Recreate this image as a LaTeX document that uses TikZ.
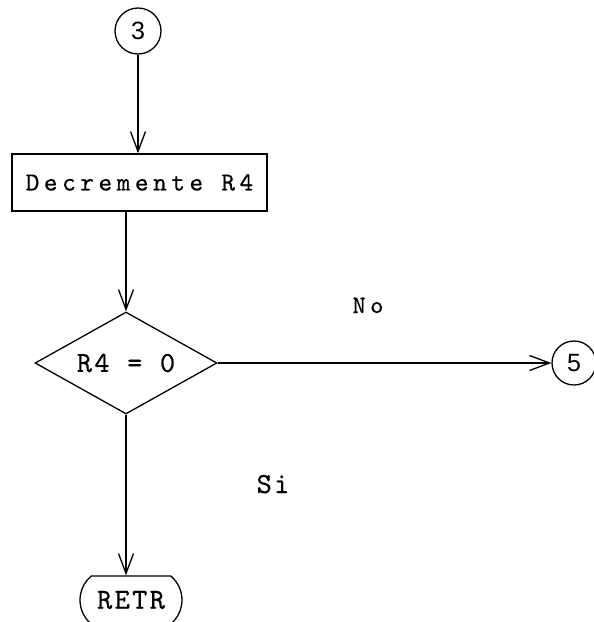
\documentclass[tikz,border=0pt]{standalone}
\usepackage{fontspec}
\newfontfamily\digitfont{Liberation Sans}
\newfontfamily\twA{lmmono10-regular}[Extension=.otf,LetterSpace=17.5,FakeBold=0.5]
\newfontfamily\twB{lmmono10-regular}[Extension=.otf,LetterSpace=8,FakeBold=0.5]
\newfontfamily\twC{lmmono10-regular}[Extension=.otf,LetterSpace=18,FakeBold=0.5]
\usetikzlibrary{arrows.meta,shapes.geometric,shapes.misc}
\tikzset{
  ln/.style={line width=1.3pt},
  arr/.style={ln,-{Straight Barb[length=20pt,width=15pt,line width=1.3pt]}},
  conn/.style={draw,circle,ln,inner sep=0pt,font=\digitfont\fontsize{25}{25}\selectfont},
  textA/.style={font=\twA\fontsize{26}{26}\selectfont},
  textB/.style={font=\twB\fontsize{29}{29}\selectfont},
  textC/.style={font=\twC\fontsize{25}{25}\selectfont},
}
\begin{document}
\begin{tikzpicture}[x=1pt,y=-1pt]
\useasboundingbox (0,0) rectangle (594,622);
\node[conn,minimum size=46pt] (c3) at (138,31) {3};
\node[draw,ln,rectangle,minimum width=255pt,minimum height=57pt,inner sep=0pt,textA] (box) at (139.5,182.5) {Decremente R4};
\node[draw,ln,diamond,minimum width=182pt,minimum height=102pt,inner sep=0pt] (dia) at (126,363) {};
\node[textB] (cond) at (dia.center) {R4 = 0};
\node[conn,minimum size=44pt] (c5) at (574,363) {5};
\node[draw,ln,rounded rectangle,rounded rectangle arc length=100,minimum width=102pt,minimum height=48pt,inner sep=0pt,textB] (retr) at (131,600) {RETR};
\node[textC,anchor=base] (no) at (368,313) {No};
\node[textB,anchor=base] (si) at (273,493) {Si};
\draw[arr] (c3.south) -- (c3.south |- box.north);
\draw[arr] (box.south -| dia.north) -- (dia.north);
\draw[arr] (dia.east) -- (c5.west);
\draw[arr] (dia.south) -- (dia.south |- retr.north);
\end{tikzpicture}
\end{document}
